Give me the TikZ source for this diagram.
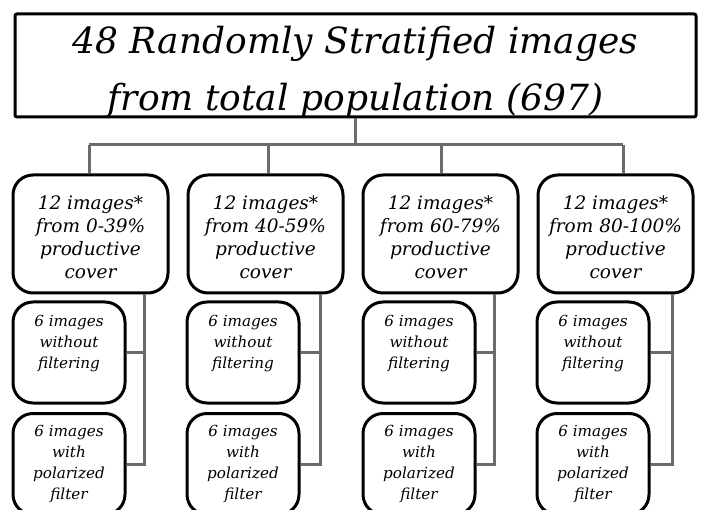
\documentclass[tikz,border=0pt]{standalone}
\usepackage{fontspec}
\setmainfont{DejaVu Serif}
\begin{document}
\begin{tikzpicture}[x=1pt,y=-1pt,
  box/.style={draw=black, fill=white, line width=3pt, inner sep=0pt},
  txt/.style={align=center, inner sep=0pt},
  topbox/.style={box, rounded corners=2pt, minimum width=681pt, minimum height=103pt},
  groupbox/.style={box, rounded corners=20pt, minimum width=155pt, minimum height=118pt},
  subbox/.style={box, rounded corners=20pt, minimum width=112pt, minimum height=101pt},
  toptxt/.style={txt, font=\fontsize{36}{57}\selectfont\itshape},
  grouptxt/.style={txt, font=\fontsize{18.5}{23}\selectfont\itshape},
  subtxt/.style={txt, font=\fontsize{15.2}{21}\selectfont\itshape},
  link/.style={draw=black!58, line width=3pt}
]
\clip (0,0) rectangle (704,510);
\fill[white] (0,0) rectangle (704,510);

% junction points of the tree
\coordinate (hub) at (355,145);
\coordinate (d1) at (89,145);
\coordinate (d2) at (268,145);
\coordinate (d3) at (441,145);
\coordinate (d4) at (623,145);
\coordinate (t1) at (144,0);
\coordinate (t2) at (320,0);
\coordinate (t3) at (494,0);
\coordinate (t4) at (672,0);

% boxes
\node[topbox] (top) at (355.5,65.5) {};
\node[toptxt] (toplabel) at (355.5,72) {48 Randomly Stratified images\\from total population (697)};

\foreach \i/\x/\r in {1/90.5/0-39,2/265.5/40-59,3/440.5/60-79,4/615.5/80-100}{
  \node[groupbox] (g\i) at (\x,234) {};
  \node[grouptxt] (g\i label) at (\x,237.5) {12 images*\\from \r\%\\productive\\cover};
}

\foreach \i/\x in {1/69,2/243,3/419,4/593}{
  \node[subbox] (a\i) at (\x,352.5) {};
  \node[subtxt] (a\i label) at (\x,344) {6 images\\without\\filtering};
  \node[subbox] (b\i) at (\x,464) {};
  \node[subtxt] (b\i label) at (\x,463.5) {6 images\\with\\polarized\\filter};
}

% connectors, drawn under the boxes' outlines
\draw[link] (top.south -| hub) -- (hub);
\draw[link] (d1) -- (d4);
\foreach \i in {1,...,4}{
  \draw[link] (d\i) -- (d\i |- g\i.north);
  \draw[link] (g\i.south -| t\i) -- (b\i.east -| t\i) -- (b\i.east);
  \draw[link] (a\i.east) -- (a\i.east -| t\i);
}
\end{tikzpicture}
\end{document}
